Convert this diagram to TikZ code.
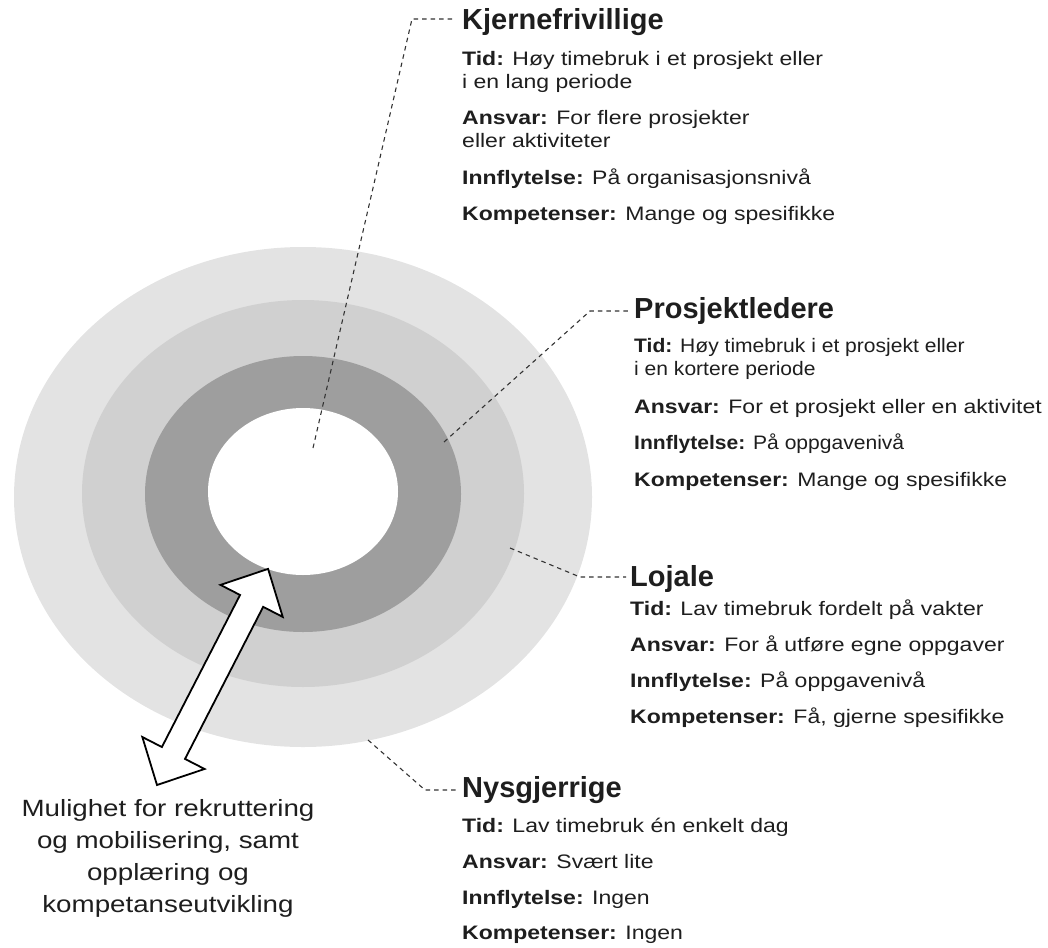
\documentclass[tikz,border=0pt]{standalone}
\usepackage{fontspec}
\setmainfont{Liberation Sans}[FakeStretch=1.18]
\newfontfamily\headfont{Liberation Sans}
\newfontfamily\pfont{Liberation Sans}[FakeStretch=1.08]
\usetikzlibrary{calc}
\definecolor{ringA}{HTML}{E3E3E3}
\definecolor{ringB}{HTML}{D0D0D0}
\definecolor{ringC}{HTML}{9E9E9E}
\definecolor{leadc}{HTML}{333333}
\definecolor{txt}{HTML}{1E1E1E}
\begin{document}
\begin{tikzpicture}[x=1pt,y=-1pt,
  head/.style={font=\headfont\bfseries\fontsize{29}{33}\selectfont, inner sep=0pt, anchor=base west, text=txt},
  body/.style={font=\fontsize{19.5}{23}\selectfont, inner sep=0pt, anchor=base west, text=txt},
  pbody/.style={body, font=\pfont\fontsize{19.5}{23}\selectfont},
  note/.style={font=\fontsize{23.5}{28}\selectfont, inner sep=0pt, anchor=base, text=txt},
  leader/.style={draw=leadc, line width=1.1pt, dash pattern=on 4.5pt off 4pt},
  dblarrow/.style={draw=black, line width=1.8pt, fill=white, line join=miter}]
\useasboundingbox (0,0) rectangle (1048,947);
% rings
\fill[ringA] (303,497) ellipse [x radius=289, y radius=250];
\fill[ringB] (303,493.5) ellipse [x radius=221, y radius=193.5];
\fill[ringC] (303,494) ellipse [x radius=158, y radius=138];
\fill[white] (303,491.5) ellipse [x radius=95, y radius=83.5];
% double arrow
\begin{scope}[shift={(157,785)}, rotate=62.8]
\draw[dblarrow] (0,0) -- (36,35) -- (36,13) -- (207,13) -- (207,35) -- (243,0)
  -- (207,-35) -- (207,-13) -- (36,-13) -- (36,-35) -- cycle;
\end{scope}
% block 1
\node[head] (kh) at (462,30) {Kjernefrivillige};
\node[body] (k1) at (462,66) {\textbf{Tid:} Høy timebruk i et prosjekt eller};
\node[body] (k2) at (462,88.5) {i en lang periode};
\node[body] (k3) at (462,124.5) {\textbf{Ansvar:} For flere prosjekter};
\node[body] (k4) at (462,147) {eller aktiviteter};
\node[body] (k5) at (462,184) {\textbf{Innflytelse:} På organisasjonsnivå};
\node[body] (k6) at (462,220) {\textbf{Kompetenser:} Mange og spesifikke};
% block 2
\node[head] (ph) at (634,318) {Prosjektledere};
\node[pbody] (p1) at (634,352) {\textbf{Tid:} Høy timebruk i et prosjekt eller};
\node[pbody] (p2) at (634,375) {i en kortere periode};
\node[body] (p3) at (634,413) {\textbf{Ansvar:} For et prosjekt eller en aktivitet};
\node[pbody] (p4) at (634,449) {\textbf{Innflytelse:} På oppgavenivå};
\node[body] (p5) at (634,486) {\textbf{Kompetenser:} Mange og spesifikke};
% block 3
\node[head] (lh) at (630,586) {Lojale};
\node[body] (l1) at (630,615) {\textbf{Tid:} Lav timebruk fordelt på vakter};
\node[body] (l2) at (630,651) {\textbf{Ansvar:} For å utføre egne oppgaver};
\node[body] (l3) at (630,687) {\textbf{Innflytelse:} På oppgavenivå};
\node[body] (l4) at (630,723) {\textbf{Kompetenser:} Få, gjerne spesifikke};
% block 4
\node[head] (nh) at (462,797) {Nysgjerrige};
\node[body] (n1) at (462,832) {\textbf{Tid:} Lav timebruk én enkelt dag};
\node[body] (n2) at (462,868) {\textbf{Ansvar:} Svært lite};
\node[body] (n3) at (462,904) {\textbf{Innflytelse:} Ingen};
\node[body] (n4) at (462,939) {\textbf{Kompetenser:} Ingen};
% left note
\node[note] (m1) at (168,816) {Mulighet for rekruttering};
\node[note] (m2) at (168,848) {og mobilisering, samt};
\node[note] (m3) at (168,880) {opplæring og};
\node[note] (m4) at (168,912) {kompetanseutvikling};
% leaders
\coordinate (s1) at (313,448); \coordinate (c1) at (412,19);
\draw[leader] (s1) -- (c1) -- ([xshift=-6pt]kh.west |- c1);
\coordinate (s2) at (444,442); \coordinate (c2) at (590,311);
\draw[leader] (s2) -- (c2) -- ([xshift=-4pt]ph.west |- c2);
\coordinate (s3) at (510,548); \coordinate (c3) at (580,577);
\draw[leader] (s3) -- (c3) -- ([xshift=-4pt]lh.west |- c3);
\coordinate (s4) at (368,740); \coordinate (c4) at (425,790);
\draw[leader] (s4) -- (c4) -- ([xshift=-6pt]nh.west |- c4);
\end{tikzpicture}
\end{document}
